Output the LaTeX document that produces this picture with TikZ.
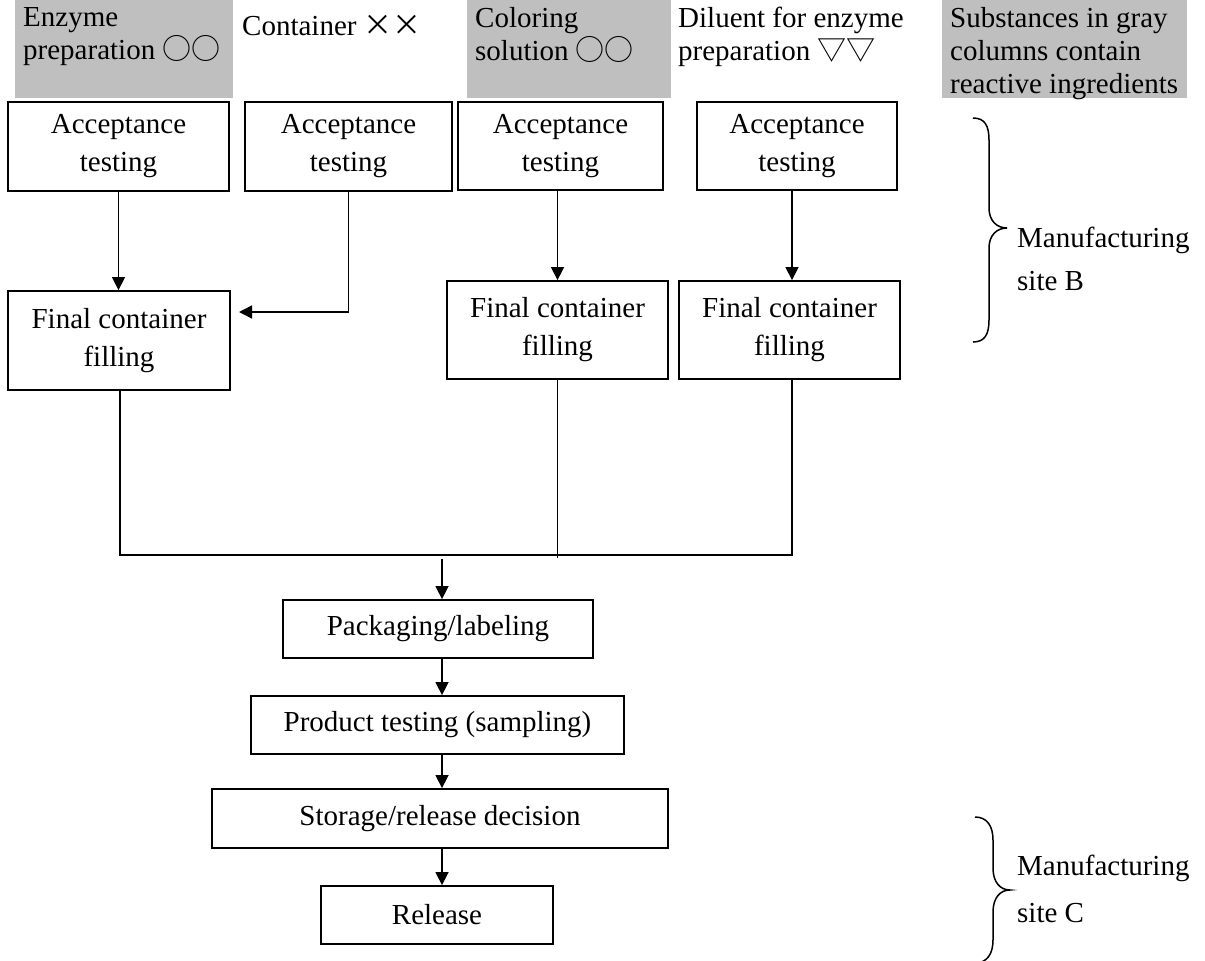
\documentclass[tikz,border=0pt]{standalone}
\usepackage{fontspec}
\setmainfont{Liberation Serif}
\newfontfamily\cjk{Noto Sans CJK SC}
\usetikzlibrary{arrows.meta}
\definecolor{hdrgray}{RGB}{191,191,191}
\begin{document}
\begin{tikzpicture}[x=1pt,y=-1pt,
  box/.style={draw,line width=1.8pt,align=center,inner sep=0pt,font=\fontsize{29}{38}\selectfont},
  hdr/.style={anchor=north west,align=left,inner sep=0pt,font=\fontsize{29}{33}\selectfont},
  site/.style={anchor=north west,align=left,inner sep=0pt},
  grayfill/.style={fill=hdrgray},
  conn/.style={line width=1.5pt},
  arr/.style={conn,-{Triangle[width=13pt,length=13pt]}},
  bracestyle/.style={line width=1.5pt}]
\useasboundingbox (0,0) rectangle (1205,961);

% gray header backgrounds
\fill[grayfill] (15,0) rectangle (233,98);
\fill[grayfill] (467,0) rectangle (671,98);
\fill[grayfill] (942,0) rectangle (1187,98);

% header texts
\node[hdr] (h1) at (23,7) {Enzyme\\preparation {\cjk ○○}};
\node[hdr] (h2) at (242,15) {Container {\cjk ××}};
\node[hdr] (h3) at (475,7) {Coloring\\solution {\cjk ○○}};
\node[hdr] (h4) at (678,7) {Diluent for enzyme\\preparation {\cjk ▽▽}};
\node[hdr] (h5) at (950,7) {Substances in gray\\columns contain\\reactive ingredients};

% acceptance boxes
\node[box,minimum width=221pt,minimum height=89pt] (A1) at (118.5,146.5) {Acceptance\\testing};
\node[box,minimum width=207pt,minimum height=89pt] (A2) at (348.5,146.5) {Acceptance\\testing};
\node[box,minimum width=205pt,minimum height=88pt] (A3) at (560.5,146) {Acceptance\\testing};
\node[box,minimum width=200pt,minimum height=88pt] (A4) at (797,146) {Acceptance\\testing};

% filling boxes
\node[box,minimum width=222pt,minimum height=99pt] (F1) at (119,340.5) {Final container\\filling};
\node[box,minimum width=221pt,minimum height=98pt] (F3) at (557.5,330) {Final container\\filling};
\node[box,minimum width=221pt,minimum height=98pt] (F4) at (789.5,330) {Final container\\filling};

% lower chain
\node[box,minimum width=310pt,minimum height=58pt] (P) at (438,629) {Packaging/labeling};
\node[box,minimum width=373pt,minimum height=58pt] (T) at (437.5,725) {Product testing (sampling)};
\node[box,minimum width=456pt,minimum height=59pt] (S) at (440,818.5) {Storage/release decision};
\node[box,minimum width=232pt,minimum height=58pt] (R) at (437,915) {Release};

% helper coordinates
\coordinate (ax) at (442,0);
\coordinate (c2) at (239,312);
\coordinate (m1) at (120,555);
\coordinate (m3) at (557.5,558);
\coordinate (m4) at (792,555);
\coordinate (mp) at (442,559);

% connectors top part
\draw[arr] (A1.south) -- (A1.south |- F1.north);
\draw[arr] (A2.south) |- (c2);
\draw[arr] (F3.north |- A3.south) -- (F3.north);
\draw[arr] (A4.south -| m4) -- (F4.north -| m4);

% merge lines
\draw[conn] (F1.south -| m1) -- (m1) -- (m4) -- (F4.south -| m4);
\draw[conn] (F3.south) -- (m3);
\draw[arr] (mp) -- (P.north -| ax);
\draw[arr] (P.south -| ax) -- (T.north -| ax);
\draw[arr] (T.south -| ax) -- (S.north -| ax);
\draw[arr] (S.south -| ax) -- (R.north -| ax);

% braces
\draw[bracestyle] (973,118) .. controls (985,118) and (989,126) .. (989,140) -- (989,208)
  .. controls (989,221) and (997,228) .. (1007,228)
  .. controls (997,228) and (989,235) .. (989,248) -- (989,320)
  .. controls (989,334) and (985,342) .. (973,342);
\draw[bracestyle] (975,817) .. controls (987,817) and (993,826) .. (993,840) -- (993,868)
  .. controls (993,882) and (1000,890) .. (1010,890)
  .. controls (1000,890) and (993,898) .. (993,912) -- (993,940)
  .. controls (993,954) and (987,963) .. (975,963);

\node[site,font=\fontsize{29}{43}\selectfont] (sB) at (1017,227) {Manufacturing\\site B};
\node[site,font=\fontsize{29}{47}\selectfont] (sC) at (1017,855) {Manufacturing\\site C};
\end{tikzpicture}
\end{document}
